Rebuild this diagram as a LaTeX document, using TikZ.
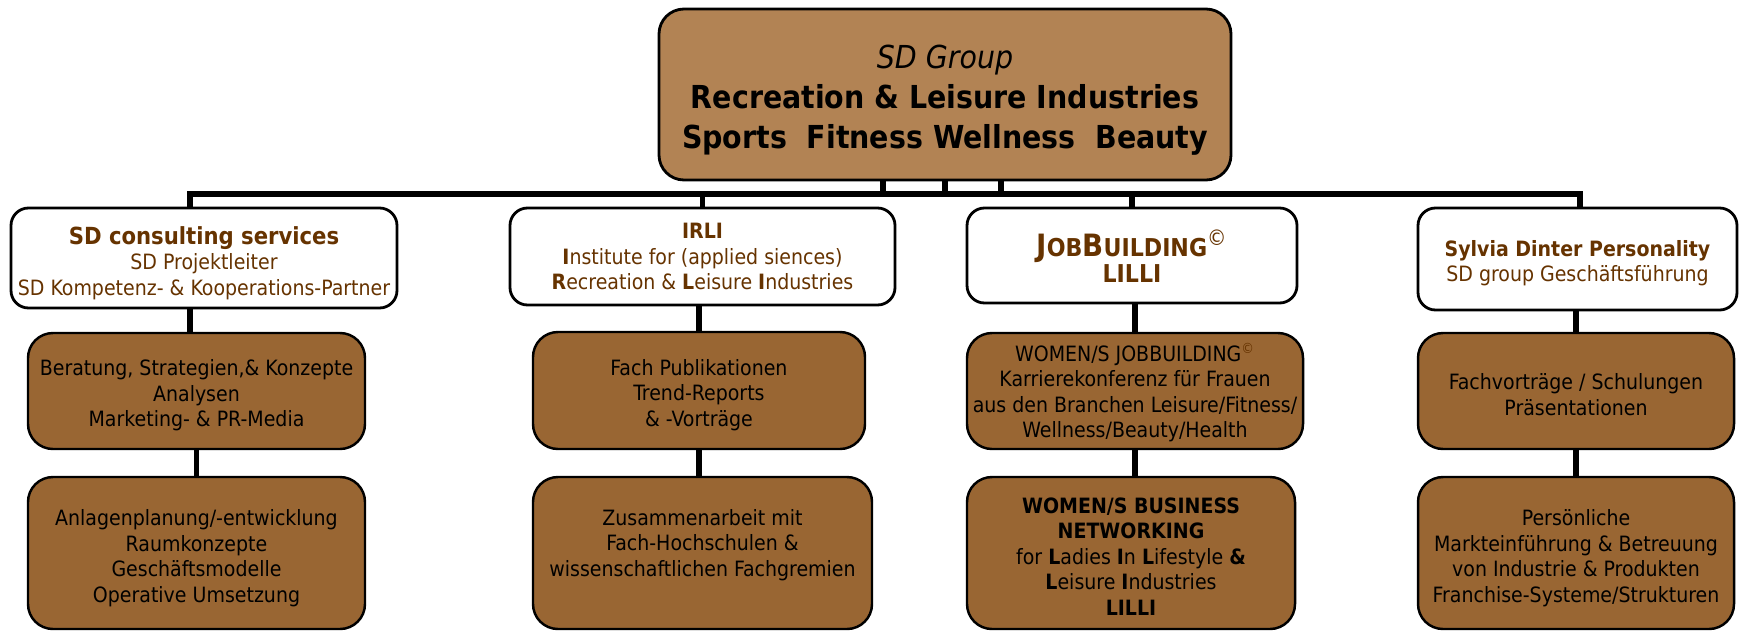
\documentclass[tikz,border=0pt]{standalone}
\usepackage{fontspec}
\setmainfont{DejaVu Sans Condensed}
\usepackage{tikz}
\usetikzlibrary{positioning}
\definecolor{sdbrown}{RGB}{153,102,51}
\definecolor{sdtext}{RGB}{102,51,0}
\definecolor{sdtop}{RGB}{178,131,84}
\newcommand{\lift}[1]{\rule{0pt}{#1}}

\begin{document}
\begin{tikzpicture}[x=0.2mm, y=-0.2mm,
        head/.style={rectangle, draw, line width=1.6pt, fill=sdtop, rounded corners=5mm, align=center, inner sep=0pt, font=\fontsize{18}{22.8}\selectfont},
        unit/.style={rectangle, draw, line width=1.6pt, fill=white, rounded corners=3.5mm, align=center, inner sep=0pt, text=sdtext, font=\fontsize{12}{14.5}\selectfont},
        task/.style={rectangle, draw, line width=1.4pt, fill=sdbrown, rounded corners=5mm, align=center, inner sep=0pt, font=\fontsize{12}{14.5}\selectfont},
        line/.style={draw, line width=3pt}]

        \useasboundingbox (0,0) rectangle (1739,631);

        % Group at the top
        \node [head, minimum width=114.4mm, minimum height=34.2mm] (group) at (945,94.5)
            {\lift{20pt}\textit{SD Group}\\ \textbf{Recreation \& Leisure Industries}\\ \textbf{Sports\ \ Fitness Wellness\ \ Beauty}};

        % Units
        \node [unit, minimum width=77.2mm, minimum height=20mm] (consult) at (204,258)
            {{\fontsize{13.4}{15}\selectfont\lift{16pt}\textbf{SD consulting services}}\\ SD Projektleiter\\ SD Kompetenz- \& Kooperations-Partner};
        \node [unit, minimum width=77mm, minimum height=19.4mm] (irli) at (702.5,256.5)
            {\textbf{IRLI}\\ \textbf{I}nstitute for (applied siences)\\ \textbf{R}ecreation \& \textbf{L}eisure \textbf{I}ndustries};
        \node [unit, minimum width=66mm, minimum height=19mm] (jobb) at (1132,255.5)
            {{\fontsize{17.5}{18.2}\selectfont\lift{16pt}\textbf{J{\fontsize{14}{14}\selectfont OB}B{\fontsize{14}{14}\selectfont UILDING}}\textsuperscript{©}}\\ {\fontsize{14}{18.2}\selectfont\textbf{LILLI}}};
        \node [unit, minimum width=63.8mm, minimum height=20.4mm] (sylvia) at (1577.5,259)
            {\lift{14pt}\textbf{Sylvia Dinter Personality}\\ SD group Geschäftsführung};

        % Tasks, first row
        \node [task, minimum width=67.4mm, minimum height=23.2mm] (beratung) at (196.5,391)
            {\lift{14pt}Beratung, Strategien,\& Konzepte\\ Analysen\\ Marketing- \& PR-Media};
        \node [task, minimum width=66.4mm, minimum height=23.4mm] (publik) at (699,390.5)
            {\lift{14pt}Fach Publikationen\\ Trend-Reports\\ \& -Vorträge};
        \node [task, minimum width=67.2mm, minimum height=23.2mm] (women) at (1135,391)
            {\lift{12pt}WOMEN/S JOBBUILDING\textsuperscript{\color{sdtext}©}\\ Karrierekonferenz für Frauen\\ aus den Branchen Leisure/Fitness/\\ Wellness/Beauty/Health};
        \node [task, minimum width=63.2mm, minimum height=23.2mm] (vortrag) at (1576,391)
            {\lift{13pt}Fachvorträge / Schulungen\\ Präsentationen};

        % Tasks, second row
        \node [task, minimum width=67.4mm, minimum height=30.4mm] (anlagen) at (196.5,553)
            {\lift{15pt}Anlagenplanung/-entwicklung\\ Raumkonzepte\\ Geschäftsmodelle\\ Operative Umsetzung};
        \node [task, minimum width=67.8mm, minimum height=30.4mm] (hochsch) at (702.5,553)
            {\lift{12pt}Zusammenarbeit mit\\ Fach-Hochschulen \&\\ wissenschaftlichen Fachgremien\\ ~};
        \node [task, minimum width=65.6mm, minimum height=30.4mm] (network) at (1131,553)
            {\lift{13pt}\textbf{WOMEN/S BUSINESS}\\ \textbf{NETWORKING}\\ for \textbf{L}adies \textbf{I}n \textbf{L}ifestyle \textbf{\&}\\ \textbf{L}eisure \textbf{I}ndustries\\ \textbf{LILLI}};
        \node [task, minimum width=63.2mm, minimum height=30.4mm] (markt) at (1576,553)
            {\lift{15pt}Persönliche\\ Markteinführung \& Betreuung\\ von Industrie \& Produkten\\ Franchise-Systeme/Strukturen};

        % Bar
        \coordinate (barL) at (190,194);
        \coordinate (barR) at (1580,194);

        % Connections
        \path [line] (barL |- consult.north) -- (barL) -- (barR) -- (barR |- sylvia.north);
        \path [line] (group.south) -- (group.south |- barL);
        \path [line] (883,0 |- group.south) -- (883,0 |- barL);
        \path [line] (1001,0 |- group.south) -- (1001,0 |- barL);
        \path [line] (irli.north) -- (irli.north |- barL);
        \path [line] (jobb.north) -- (jobb.north |- barL);
        \path [line] (consult.south -| barL) -- (beratung.north -| barL);
        \path [line] (beratung.south) -- (anlagen.north);
        \path [line] (publik.north) -- (publik.north |- irli.south);
        \path [line] (publik.south) -- (publik.south |- hochsch.north);
        \path [line] (women.north) -- (women.north |- jobb.south);
        \path [line] (women.south) -- (women.south |- network.north);
        \path [line] (vortrag.north) -- (vortrag.north |- sylvia.south);
        \path [line] (vortrag.south) -- (markt.north);

    \end{tikzpicture}
\end{document}
